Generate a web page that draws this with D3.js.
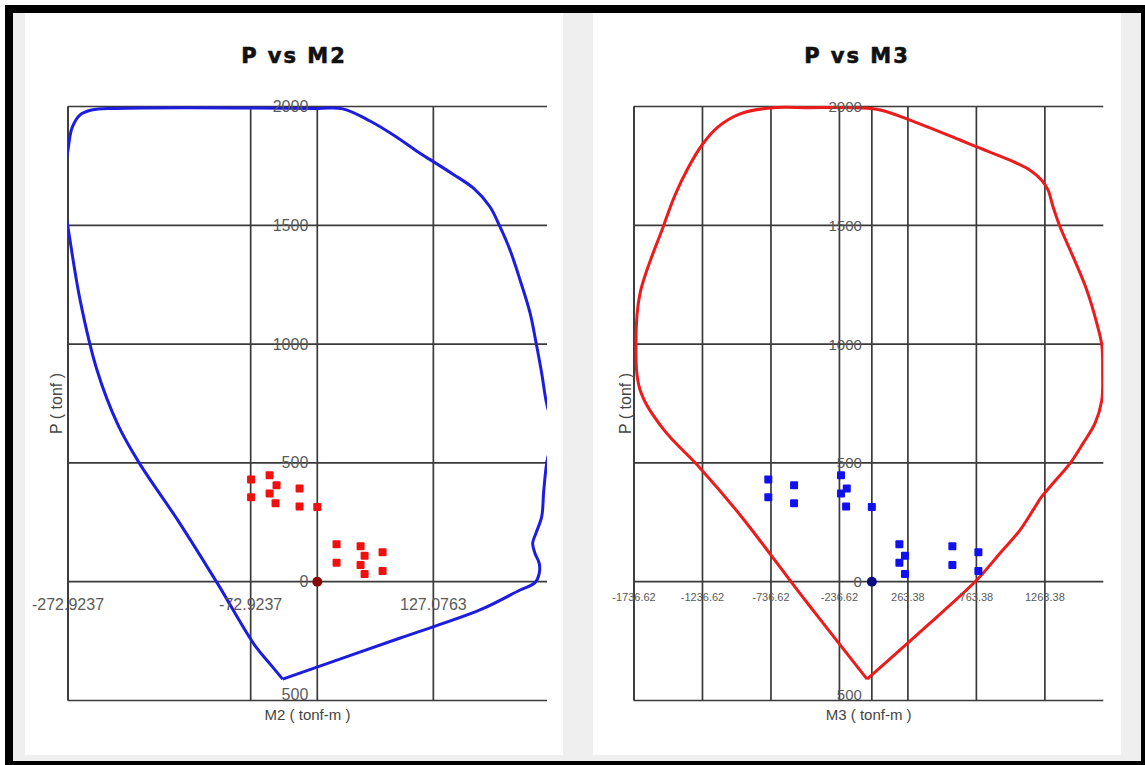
<!DOCTYPE html>
<html>
<head>
<meta charset="utf-8">
<script src="https://cdn.jsdelivr.net/npm/d3@7"></script>
<style>
  html, body { margin: 0; padding: 0; background: #fff; }
  svg { display: block; }
</style>
</head>
<body>
<svg id="chart" width="1145" height="765"></svg>
<script>
// Axial load ticks shared by both diagrams (tonf)
const pTicks = [2000, 1500, 1000, 500, 0, -500];
const pTickLabels = ["2000", "1500", "1000", "500", "0", "500"];

// Moment axis ticks (tonf-m)
const m2Ticks = [-272.9237, -72.9237, 127.0763];
const m2TickLabels = ["-272.9237", "-72.9237", "127.0763"];
const m3Ticks = [-1736.62, -1236.62, -736.62, -236.62, 263.38, 763.38, 1263.38];
const m3TickLabels = ["-1736.62", "-1236.62", "-736.62", "-236.62", "263.38", "763.38", "1263.38"];

// Interaction surface cut, P-M2 plane (starts and ends at the tension corner)
const m2CurveM = [-37.9, -51.8, -68.2, -109.8, -151.4, -195, -218.2, -241.2, -259.7, -273, -279.5, -273, -268.6, -260, -247,
                  -221.5, 0, 28, 57.7, 85, 112.4, 127, 149, 171, 189, 200, 211, 222, 233, 240, 245.7, 250.4, 253.5, 259,
                  260, 252.5, 248, 245.7, 239.4, 235.8, 238.3, 243, 243, 238.3, 222, 178, 90];
const m2CurveP = [-410, -346, -269, -4, 251, 500, 660, 891, 1186, 1493, 1648, 1816, 1909, 1964, 1985,
                  1992, 1992, 1990, 1939, 1876, 1803, 1768, 1714, 1656, 1578, 1494, 1396, 1270, 1130, 996, 877, 763, 715, 660,
                  600, 525, 385, 274, 204, 162, 120, 77, 35, -4, -35, -119, -238];

// Interaction surface cut, P-M3 plane (starts and ends at the tension corner)
const m3CurveM = [-35, -488, -962, -1255, -1524, -1692, -1722, -1692, -1524, -1437, -1342, -1240, -1123, -962, -743, -451,
                  -86, 60, 279, 644, 761, 1009, 1155, 1240, 1287, 1323, 1374, 1469, 1569, 1642, 1679, 1685, 1679, 1630,
                  1542, 1447, 1323, 1240, 1177, 1082, 936, 766, 351];
const m3CurveP = [-410, -77, 281, 479, 643, 807, 1013, 1215, 1493, 1627, 1741, 1838, 1914, 1969, 1994, 1995,
                  1994, 1985, 1943, 1859, 1831, 1774, 1732, 1690, 1648, 1578, 1494, 1368, 1228, 1089, 996, 878, 764, 667,
                  582, 498, 414, 358, 301, 217, 120, 7, -212];

// Column demand points, one per load combination
const demandP  = [430, 355, 448, 406, 371, 330, 392, 317, 314, 158, 80, 149, 109, 70, 32, 124, 45];
const demandM2 = [-72.5, -72.5, -52.2, -44.6, -52.2, -45.7, -19.4, -19.4, 0, 21.1, 21.1, 47.4, 51.8, 47.4, 51.8, 71.5, 71.5];
const demandM3 = [-756, -756, -225, -568, -225, -568, -183, -188, 0, 201, 201, 588, 242, 588, 242, 778, 778];

const svg = d3.select("#chart");
const W = 1145, H = 765;
const FONT = "'Liberation Sans', Arial, sans-serif";

// Outer frame and background
svg.append("rect").attr("x", 0).attr("y", 0).attr("width", W).attr("height", H).attr("fill", "#fff");
svg.append("rect").attr("x", 5).attr("y", 5).attr("width", W - 5).attr("height", H - 5).attr("fill", "#000");
svg.append("rect").attr("x", 13).attr("y", 13).attr("width", 1128).attr("height", 748).attr("fill", "#efefef");

const yScale = d3.scaleLinear().domain([-500, 2000]).range([700.5, 106.5]);

function drawPanel(cfg) {
  const g = svg.append("g");
  g.append("rect").attr("x", cfg.panel[0]).attr("y", 13)
    .attr("width", cfg.panel[1] - cfg.panel[0]).attr("height", 742).attr("fill", "#fff");

  const x = d3.scaleLinear().domain(cfg.domain).range(cfg.range);
  const [x0, x1] = cfg.range;
  const yTop = yScale(2000), yBot = yScale(-500);
  const gridColor = "#3a3a3a";

  const clipId = "clip-" + cfg.id;
  svg.append("clipPath").attr("id", clipId)
    .append("rect").attr("x", x0).attr("y", yTop - 10).attr("width", x1 - x0).attr("height", yBot - yTop + 20);

  // Horizontal grid at each load tick
  g.selectAll("line.h").data(pTicks).join("line")
    .attr("x1", x0).attr("x2", x1)
    .attr("y1", d => yScale(d)).attr("y2", d => yScale(d))
    .attr("stroke", gridColor).attr("stroke-width", 1.7);

  // Vertical grid at each moment tick plus the zero axis and left border
  g.selectAll("line.v").data([cfg.domain[0], ...cfg.ticks, 0]).join("line")
    .attr("x1", d => x(d)).attr("x2", d => x(d))
    .attr("y1", yTop).attr("y2", yBot)
    .attr("stroke", gridColor).attr("stroke-width", 1.7);

  // Capacity curve: open Catmull-Rom that returns to its start, keeping the tension corner sharp
  const pts = d3.zip(cfg.curveM, cfg.curveP);
  pts.push(pts[0]);
  const line = d3.line().x(d => x(d[0])).y(d => yScale(d[1])).curve(d3.curveCatmullRom.alpha(0.5));
  g.append("path").attr("d", line(pts))
    .attr("fill", "none").attr("stroke", cfg.curveColor).attr("stroke-width", 3)
    .attr("stroke-linejoin", "miter")
    .attr("clip-path", `url(#${clipId})`);

  // Demand points
  const dem = d3.zip(cfg.demandM, demandP);
  const s = 8;
  g.selectAll("rect.pt").data(dem).join("rect")
    .attr("x", d => x(d[0]) - s / 2).attr("y", d => yScale(d[1]) - s / 2)
    .attr("width", s).attr("height", s).attr("rx", 1)
    .attr("fill", cfg.pointColor);

  // Origin marker
  g.append("circle").attr("cx", x(0)).attr("cy", yScale(0)).attr("r", 5).attr("fill", cfg.originColor);

  // Load tick labels, the lowest one tucked against the bottom border and clipped there
  const lblClip = "lclip-" + cfg.id;
  svg.append("clipPath").attr("id", lblClip)
    .append("rect").attr("x", 0).attr("y", 0).attr("width", W).attr("height", yBot + 1);
  const ly = g.append("g").attr("clip-path", `url(#${lblClip})`);
  ly.selectAll("text").data(pTicks).join("text")
    .attr("x", x(0) - cfg.yLabelGap).attr("y", d => Math.min(yScale(d), yBot - 6))
    .attr("text-anchor", "end").attr("dominant-baseline", "central")
    .attr("font-family", FONT)
    .attr("font-size", cfg.yLabelSize).attr("fill", "#5a5a5a")
    .text((d, i) => pTickLabels[i]);

  // Moment tick labels
  g.selectAll("text.xl").data(cfg.ticks).join("text")
    .attr("x", d => x(d)).attr("y", cfg.xLabelY)
    .attr("text-anchor", "middle").attr("dominant-baseline", "central")
    .attr("font-family", FONT)
    .attr("font-size", cfg.xLabelSize).attr("fill", "#5a5a5a")
    .text((d, i) => cfg.tickLabels[i]);

  // Axis titles
  g.append("text").attr("x", (x0 + x1) / 2).attr("y", 714)
    .attr("text-anchor", "middle").attr("dominant-baseline", "central")
    .attr("font-family", FONT)
    .attr("font-size", 15).attr("fill", "#444").text(cfg.xTitle);
  g.append("text")
    .attr("transform", `translate(${x0 - cfg.pTitleGap},${(yTop + yBot) / 2}) rotate(-90)`)
    .attr("text-anchor", "middle").attr("dominant-baseline", "central")
    .attr("font-family", FONT)
    .attr("font-size", 16).attr("fill", "#444").text("P ( tonf )");

  // Title
  g.append("text").attr("x", (cfg.panel[0] + cfg.panel[1]) / 2).attr("y", 63)
    .attr("text-anchor", "middle")
    .attr("font-family", "'DejaVu Sans', Verdana, sans-serif").attr("font-weight", "bold")
    .attr("font-size", 21).attr("letter-spacing", 2).attr("fill", "#111")
    .attr("stroke", "#111").attr("stroke-width", 0.6)
    .text(cfg.title);
}

drawPanel({
  id: "m2", title: "P vs M2", xTitle: "M2 ( tonf-m )",
  panel: [25, 563], domain: [-272.9237, 251.5], range: [68, 547],
  ticks: m2Ticks, tickLabels: m2TickLabels,
  curveM: m2CurveM, curveP: m2CurveP, demandM: demandM2,
  curveColor: "#1d1de0", pointColor: "#f01010", originColor: "#8a0a0a",
  yLabelGap: 9, yLabelSize: 16, xLabelY: 604, xLabelSize: 16, pTitleGap: 11.5
});

drawPanel({
  id: "m3", title: "P vs M3", xTitle: "M3 ( tonf-m )",
  panel: [593, 1121], domain: [-1736.62, 1690], range: [634, 1103.3],
  ticks: m3Ticks, tickLabels: m3TickLabels,
  curveM: m3CurveM, curveP: m3CurveP, demandM: demandM3,
  curveColor: "#ec1c1c", pointColor: "#1010f0", originColor: "#0a0a80",
  yLabelGap: 10, yLabelSize: 15, xLabelY: 597, xLabelSize: 11, pTitleGap: 8.5
});
</script>
</body>
</html>
